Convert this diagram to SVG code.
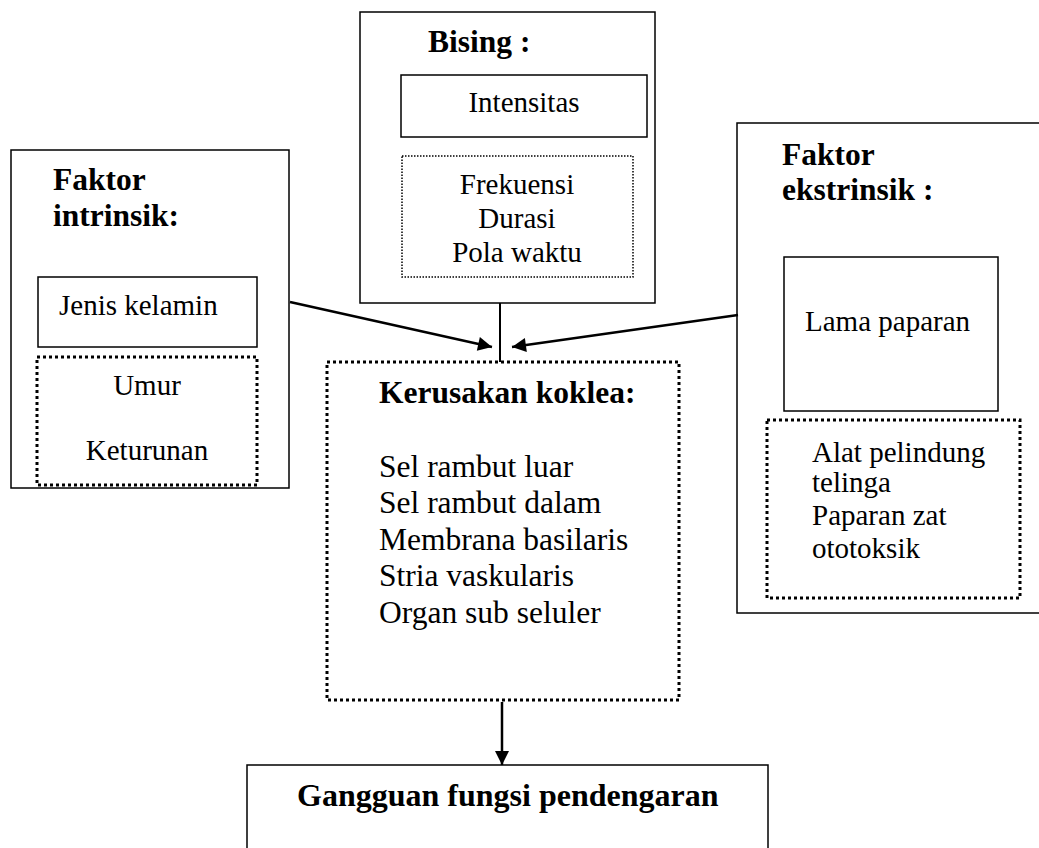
<svg xmlns="http://www.w3.org/2000/svg" width="1039" height="848" viewBox="0 0 1039 848">
<style>
text{font-family:"Liberation Serif","Times New Roman",serif;fill:#000}
.b{font-weight:bold;font-size:31.5px}
.r{font-size:29px}
.rl{font-size:31.5px}
.box{fill:none;stroke:#000;stroke-width:1.5}
.dot{fill:none;stroke:#000;stroke-width:3;stroke-dasharray:3 3}
.dotthin{fill:none;stroke:#000;stroke-width:1.5;stroke-dasharray:1.5 1.5}
.con{fill:none;stroke:#000;stroke-width:2.5}
</style>
<defs>
<marker id="ah" viewBox="0 0 10 10" refX="10" refY="5" markerWidth="16" markerHeight="14" markerUnits="userSpaceOnUse" orient="auto">
<path d="M0,0 L10,5 L0,10 z" fill="#000"/>
</marker>
</defs>
<rect width="1039" height="848" fill="#fff"/>

<g id="bising">
<rect class="box" x="360" y="12" width="295" height="291"/>
<text class="b" x="428" y="52">Bising :</text>
<rect class="box" x="401" y="75" width="246" height="62"/>
<text class="r" x="524" y="112" text-anchor="middle">Intensitas</text>
<rect class="dotthin" x="402" y="156" width="231" height="121"/>
<text class="r" x="517" y="194" text-anchor="middle">Frekuensi</text>
<text class="r" x="517" y="228" text-anchor="middle">Durasi</text>
<text class="r" x="517" y="262" text-anchor="middle">Pola waktu</text>
</g>

<g id="intrinsik">
<rect class="box" x="11" y="150" width="278" height="338"/>
<text class="b" x="53" y="190">Faktor</text>
<text class="b" x="53" y="226">intrinsik:</text>
<rect class="box" x="38" y="277" width="219" height="70"/>
<text class="r" x="59" y="315">Jenis kelamin</text>
<rect class="dot" x="37" y="357" width="220" height="128"/>
<text class="r" x="147" y="395" text-anchor="middle">Umur</text>
<text class="r" x="147" y="460" text-anchor="middle">Keturunan</text>
</g>

<g id="ekstrinsik">
<rect class="box" x="737" y="123" width="305" height="490"/>
<text class="b" x="782" y="165">Faktor</text>
<text class="b" x="782" y="200">ekstrinsik :</text>
<rect class="box" x="784" y="257" width="214" height="154"/>
<text class="r" x="805" y="331">Lama paparan</text>
<rect class="dot" x="767" y="420" width="253" height="178"/>
<text class="r" x="812" y="462">Alat pelindung</text>
<text class="r" x="812" y="492">telinga</text>
<text class="r" x="812" y="525">Paparan zat</text>
<text class="r" x="812" y="558">ototoksik</text>
</g>

<g id="kerusakan">
<rect class="dot" x="327" y="362" width="352" height="338"/>
<text class="b" x="379" y="403">Kerusakan koklea:</text>
<text class="rl" x="379" y="477">Sel rambut luar</text>
<text class="rl" x="379" y="513">Sel rambut dalam</text>
<text class="rl" x="379" y="550">Membrana basilaris</text>
<text class="rl" x="379" y="586">Stria vaskularis</text>
<text class="rl" x="379" y="623">Organ sub seluler</text>
</g>

<g id="gangguan">
<rect class="box" x="247" y="765" width="521" height="100"/>
<text class="b" x="297" y="806" style="font-size:32px">Gangguan fungsi pendengaran</text>
</g>

<g id="connectors">
<line class="con" x1="500" y1="303" x2="500" y2="362" style="stroke-width:2"/>
<line class="con" x1="290" y1="302" x2="492" y2="347" marker-end="url(#ah)"/>
<line class="con" x1="738" y1="315" x2="512" y2="347" marker-end="url(#ah)"/>
<line class="con" x1="502" y1="702" x2="502" y2="765" marker-end="url(#ah)"/>
</g>
</svg>
